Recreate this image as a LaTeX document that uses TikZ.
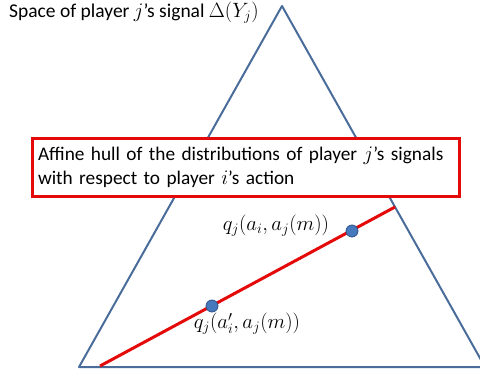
\documentclass[tikz,border=0pt]{standalone}
\usepackage{fontspec}
\setmainfont{Carlito}
\begin{document}
\begin{tikzpicture}[x=1pt,y=-1pt,
  tri/.style={draw=triblue,line width=2pt,line join=round},
  hull/.style={draw=hullred,line width=3pt},
  pt/.style={circle,fill=dotblue,draw=dotblue!70!black,line width=0.8pt,inner sep=0pt,minimum size=12pt},
  lab/.style={font=\fontsize{19.5}{22}\selectfont,inner sep=0pt},
  boxed/.style={draw=hullred,line width=3pt,fill=white,align=left,font=\fontsize{19.3}{24}\selectfont,text width=415pt,minimum height=58pt,inner xsep=6pt}]
\definecolor{triblue}{RGB}{74,108,155}
\definecolor{hullred}{RGB}{228,10,10}
\definecolor{dotblue}{RGB}{70,120,190}
\useasboundingbox (0,0) rectangle (480,375);
\coordinate (A) at (282,6);
\coordinate (B) at (79,367);
\coordinate (C) at (485,367);
\draw[tri] (B) -- (A) -- (C) -- cycle;
\coordinate (L1) at (100,366);
\coordinate (L2) at (395,207);
\draw[hull] (L1) -- (L2);
\node[pt] (q1) at (352,231) {};
\node[pt] (q2) at (212,306) {};
\node[lab] (lq1) at (276,226) {$q_j(a_i,a_j(m))$};
\node[lab] (lq2) at (247,324) {$q_j(a_i',a_j(m))$};
\node[lab,anchor=base west,font=\fontsize{19.5}{22}\selectfont] (title) at (9,17) {Space of player $j$’s signal $\Delta(Y_j)$};
\node[boxed] (box) at (245.5,167) {Affine hull of the distributions of player $j$’s signals\\with respect to player $i$’s action};
\end{tikzpicture}
\end{document}
